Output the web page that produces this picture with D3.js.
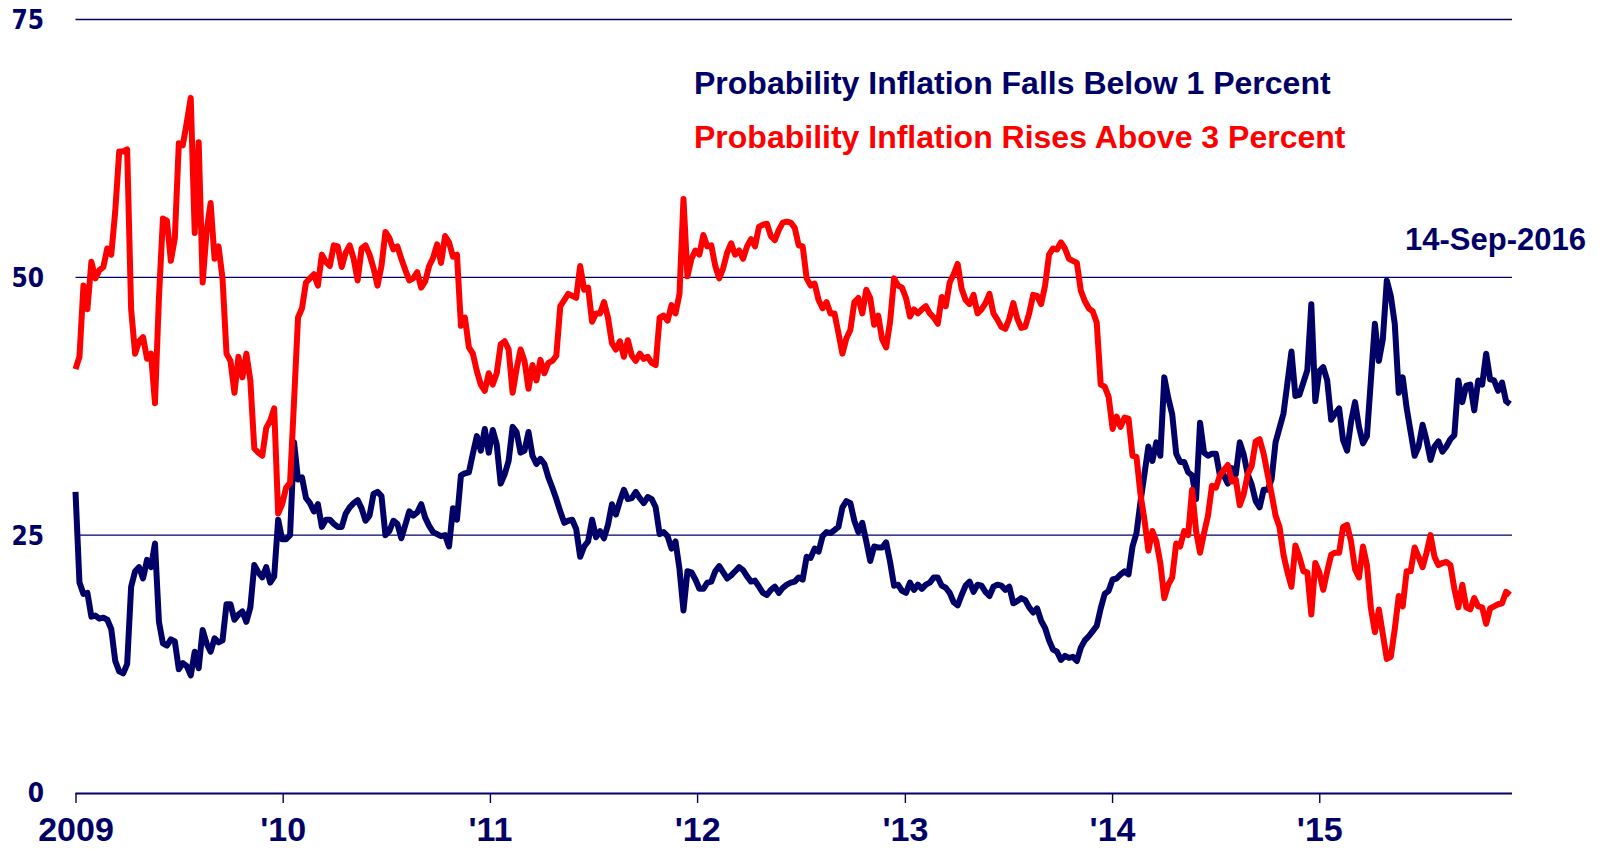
<!DOCTYPE html>
<html>
<head>
<meta charset="utf-8">
<script src="https://cdn.jsdelivr.net/npm/d3@7"></script>
<style>
  html, body { margin: 0; padding: 0; background: #fff; }
  svg { display: block; }
</style>
</head>
<body>
<svg width="1604" height="849"></svg>
<script>
// weekly readings, first week = 2009-01-01
const startDate = new Date(2009, 0, 1)

const fallsBelow1 = [
  29.2, 20.4, 19.3, 19.4, 17.1, 17.2, 16.9, 17.0, 16.8, 15.9, 12.8, 11.8, 11.6, 12.5, 20.0, 21.5, 21.9, 20.8, 22.6, 21.9,
  24.2, 16.6, 14.5, 14.3, 14.9, 14.7, 12.0, 12.6, 12.3, 11.4, 13.7, 12.1, 15.8, 14.5, 13.7, 15.0, 14.6, 14.8, 18.3, 18.3,
  16.8, 17.3, 17.6, 16.6, 18.0, 22.1, 21.4, 20.9, 21.9, 20.4, 21.0, 26.5, 24.6, 24.6, 25.0, 34.0, 30.4, 30.6, 28.6, 28.1,
  27.3, 28.0, 25.8, 26.5, 26.5, 26.1, 25.8, 25.8, 27.1, 27.7, 28.1, 28.4, 27.6, 26.4, 26.9, 29.0, 29.2, 28.8, 25.0, 25.4,
  26.4, 26.1, 24.7, 26.0, 27.3, 26.9, 27.2, 28.0, 26.7, 25.9, 25.3, 25.1, 24.9, 25.0, 23.9, 27.6, 26.5, 30.8, 31.0, 31.1,
  32.9, 34.6, 33.2, 35.3, 33.0, 35.2, 33.8, 30.0, 30.9, 32.2, 35.5, 35.0, 33.0, 33.2, 35.0, 32.7, 31.9, 32.4, 31.9, 30.6,
  29.6, 28.5, 27.3, 26.2, 26.4, 26.5, 25.6, 22.9, 23.9, 24.4, 26.5, 24.8, 25.4, 24.7, 26.0, 28.0, 27.0, 28.3, 29.4, 28.5,
  28.6, 29.2, 28.6, 28.1, 28.7, 28.5, 27.7, 25.1, 25.3, 24.9, 23.7, 24.4, 21.7, 17.7, 21.5, 21.4, 20.7, 19.8, 19.8, 20.4,
  20.5, 21.5, 22.0, 21.4, 20.8, 21.1, 21.5, 21.9, 21.6, 21.0, 20.5, 20.6, 20.0, 19.4, 19.2, 19.7, 20.0, 19.4, 19.9, 20.2,
  20.4, 20.5, 20.9, 20.7, 22.9, 22.8, 23.7, 23.4, 24.9, 25.3, 25.2, 25.5, 25.8, 27.7, 28.3, 28.1, 26.4, 25.3, 26.2, 24.4,
  22.5, 23.9, 23.8, 23.8, 24.3, 22.4, 20.1, 20.2, 19.6, 19.4, 20.4, 19.7, 20.2, 19.8, 20.2, 20.4, 20.9, 20.9, 20.1, 19.9,
  19.4, 18.5, 18.2, 19.2, 20.1, 20.5, 19.5, 20.2, 20.1, 19.5, 19.1, 20.0, 20.2, 20.1, 19.7, 20.0, 18.4, 18.6, 18.9, 18.7,
  18.0, 17.5, 17.9, 16.7, 16.0, 14.8, 13.9, 13.7, 12.9, 13.3, 13.1, 13.2, 12.8, 14.1, 14.8, 15.2, 15.7, 16.2, 17.9, 19.3,
  19.6, 20.7, 20.8, 21.2, 21.5, 21.2, 23.9, 25.2, 28.2, 30.9, 33.6, 32.2, 34.0, 32.7, 40.3, 38.3, 36.7, 32.9, 32.1, 32.1,
  31.1, 30.8, 28.5, 35.9, 33.0, 32.7, 32.9, 32.9, 30.8, 30.8, 30.0, 31.5, 30.9, 34.0, 32.8, 30.9, 29.9, 28.3, 27.7, 29.4,
  29.4, 30.4, 34.0, 35.4, 36.8, 39.8, 42.8, 38.5, 38.6, 39.8, 41.0, 47.4, 38.0, 40.9, 41.3, 40.0, 36.2, 36.8, 37.3, 34.2,
  33.2, 36.0, 37.9, 35.5, 33.9, 34.6, 40.1, 45.5, 41.9, 44.0, 49.7, 48.2, 45.5, 38.8, 40.3, 37.3, 35.0, 32.7, 33.6, 35.7,
  34.2, 32.3, 33.6, 34.1, 33.1, 33.6, 34.3, 34.7, 40.0, 37.9, 39.5, 39.6, 37.1, 40.0, 39.6, 42.6, 40.1, 40.0, 39.0, 39.8,
  38.0, 37.7
]

const risesAbove3 = [
  41.1, 42.3, 49.2, 46.9, 51.5, 49.9, 50.7, 51.0, 52.8, 52.2, 56.4, 62.2, 62.2, 62.4, 46.9, 42.6, 43.8, 44.2, 42.1, 42.6,
  37.8, 48.0, 55.7, 55.5, 51.6, 53.8, 63.0, 62.8, 65.0, 67.4, 54.3, 63.1, 49.5, 54.5, 57.2, 51.8, 53.0, 49.9, 42.6, 41.9,
  38.8, 42.3, 40.3, 42.6, 40.0, 33.4, 33.0, 32.7, 35.4, 36.1, 37.3, 27.1, 28.0, 29.6, 30.1, 38.0, 46.1, 47.0, 49.5, 49.9,
  50.3, 49.2, 52.2, 51.5, 51.1, 53.1, 53.0, 51.0, 52.4, 53.1, 51.8, 49.7, 52.8, 53.1, 52.2, 50.9, 49.2, 51.1, 54.4, 53.8,
  52.7, 53.0, 51.8, 50.7, 49.7, 49.9, 50.5, 49.0, 49.6, 51.1, 51.9, 53.2, 51.4, 54.0, 53.4, 52.0, 52.2, 45.3, 46.1, 43.2,
  42.6, 40.9, 39.6, 39.0, 40.7, 39.6, 40.7, 43.5, 43.8, 43.0, 38.8, 41.1, 43.0, 41.9, 39.2, 41.5, 40.0, 42.0, 40.7, 41.7,
  41.9, 42.4, 47.2, 47.8, 48.4, 48.2, 48.0, 51.1, 48.8, 49.0, 45.7, 46.5, 46.5, 47.6, 46.1, 43.6, 43.0, 43.8, 42.3, 43.9,
  42.4, 41.9, 42.6, 42.1, 42.3, 41.7, 41.5, 46.1, 46.3, 45.8, 47.3, 46.5, 48.4, 57.6, 50.1, 51.8, 52.6, 52.2, 54.1, 53.0,
  53.1, 51.1, 49.9, 50.9, 52.4, 53.3, 52.2, 52.6, 51.8, 53.0, 53.7, 53.0, 54.9, 55.1, 55.2, 54.0, 53.6, 54.6, 55.3, 55.4,
  55.3, 54.8, 53.1, 53.0, 49.9, 49.2, 49.4, 47.8, 47.0, 47.6, 46.5, 46.5, 44.6, 42.6, 44.1, 44.9, 47.6, 48.0, 46.5, 48.8,
  48.0, 45.4, 46.3, 44.0, 43.2, 45.7, 49.9, 49.2, 49.0, 48.0, 46.2, 46.9, 46.5, 46.9, 47.2, 46.5, 46.1, 45.5, 48.1, 47.2,
  49.5, 50.3, 51.3, 48.9, 47.8, 47.4, 48.3, 46.5, 46.9, 47.5, 48.4, 46.5, 45.9, 45.2, 45.0, 46.0, 47.5, 46.0, 45.1, 45.2,
  46.5, 48.3, 48.2, 47.4, 49.2, 52.2, 52.8, 52.7, 53.4, 52.8, 51.8, 51.6, 51.4, 48.7, 47.7, 47.0, 46.7, 45.6, 39.6, 39.4,
  38.4, 35.3, 36.5, 35.5, 36.4, 36.3, 32.7, 32.6, 29.0, 26.5, 23.5, 25.4, 24.4, 22.3, 18.9, 20.2, 20.9, 24.2, 23.9, 25.4,
  25.0, 29.4, 25.4, 23.3, 25.2, 26.9, 29.8, 29.6, 30.8, 31.3, 31.8, 30.2, 30.4, 27.9, 29.0, 30.9, 31.7, 34.1, 34.3, 32.9,
  30.9, 29.0, 26.9, 25.8, 23.1, 21.4, 20.0, 24.0, 22.9, 21.5, 21.4, 17.3, 22.3, 21.4, 19.7, 21.5, 23.1, 23.3, 23.3, 25.8,
  26.0, 24.4, 21.7, 20.9, 23.9, 22.1, 17.9, 15.6, 17.8, 15.4, 13.0, 13.2, 15.9, 19.1, 18.1, 21.5, 21.5, 23.8, 22.9, 21.9,
  23.3, 25.0, 22.9, 22.1, 22.3, 22.4, 22.1, 19.8, 18.0, 20.2, 18.0, 17.8, 18.9, 18.1, 18.0, 16.4, 17.9, 18.1, 18.3, 18.4,
  19.5, 19.2
]

const yTicks = [0, 25, 50, 75]
const gridValues = [25, 50, 75]
const legendLabels = ['Probability Inflation Falls Below 1 Percent', 'Probability Inflation Rises Above 3 Percent']
const dateLabel = '14-Sep-2016'

const navy = '#000066'
const red = '#ff0000'

const svg = d3.select('svg')
const margin = {top: 19.5, right: 94, bottom: 56, left: 75.5}
const width = +svg.attr('width')
const height = +svg.attr('height')

const weeks = d3.range(fallsBelow1.length).map(i => d3.timeDay.offset(startDate, i * 7))

const x = d3.scaleTime()
  .domain([weeks[0], weeks[weeks.length - 1]])
  .range([margin.left, width - margin.right])

const y = d3.scaleLinear()
  .domain([0, 75])
  .range([height - margin.bottom, margin.top])

// gridlines
svg.append('g')
  .selectAll('line')
  .data(gridValues)
  .join('line')
  .attr('x1', x.range()[0])
  .attr('x2', x.range()[1] + 2)
  .attr('y1', d => y(d))
  .attr('y2', d => y(d))
  .attr('stroke', navy)
  .attr('stroke-width', 1.4)

// y labels
svg.append('g')
  .selectAll('text')
  .data(yTicks)
  .join('text')
  .attr('x', 44)
  .attr('y', d => y(d))
  .attr('dy', '0.36em')
  .attr('text-anchor', 'end')
  .attr('fill', navy)
  .style('font-family', '"DejaVu Sans Condensed", "DejaVu Sans", sans-serif')
  .style('font-stretch', 'condensed')
  .style('font-weight', 'bold')
  .style('font-size', '26px')
  .text(d => d)

// x axis
const xAxis = d3.axisBottom(x)
  .ticks(d3.timeYear.every(1))
  .tickSize(10)
  .tickFormat(d => d.getFullYear() === 2009 ? '2009' : "'" + d3.timeFormat('%y')(d))

const axisG = svg.append('g')
  .attr('transform', `translate(0, ${y(0)})`)
  .call(xAxis)

axisG.select('.domain')
  .attr('d', `M${x.range()[0]},0.5H${x.range()[1] + 2}`)
  .attr('stroke', navy)
  .attr('stroke-width', 2.2)
axisG.selectAll('.tick line').attr('stroke', navy).attr('stroke-width', 1.4)
axisG.selectAll('.tick text')
  .attr('y', 48)
  .attr('dy', 0)
  .attr('fill', navy)
  .style('font-family', '"Liberation Sans Narrow", "Arial Narrow", sans-serif')
  .style('font-weight', 'bold')
  .style('font-size', '34px')

// series lines
const line = d3.line()
  .x((d, i) => x(weeks[i]))
  .y(d => y(d))

svg.append('path')
  .datum(fallsBelow1)
  .attr('d', line)
  .attr('fill', 'none')
  .attr('stroke', navy)
  .attr('stroke-width', 6)
  .attr('stroke-linejoin', 'round')

svg.append('path')
  .datum(risesAbove3)
  .attr('d', line)
  .attr('fill', 'none')
  .attr('stroke', red)
  .attr('stroke-width', 6)
  .attr('stroke-linejoin', 'round')

// legend text
svg.append('g')
  .selectAll('text')
  .data(legendLabels)
  .join('text')
  .attr('x', 694)
  .attr('y', (d, i) => 94 + i * 54)
  .attr('fill', (d, i) => i === 0 ? navy : red)
  .style('font-family', '"Liberation Sans", Arial, sans-serif')
  .style('font-weight', 'bold')
  .style('font-size', '32px')
  .text(d => d)

svg.append('text')
  .attr('x', 1586)
  .attr('y', 250)
  .attr('text-anchor', 'end')
  .attr('fill', navy)
  .style('font-family', '"Liberation Sans", Arial, sans-serif')
  .style('font-weight', 'bold')
  .style('font-size', '31px')
  .text(dateLabel)
</script>
</body>
</html>
